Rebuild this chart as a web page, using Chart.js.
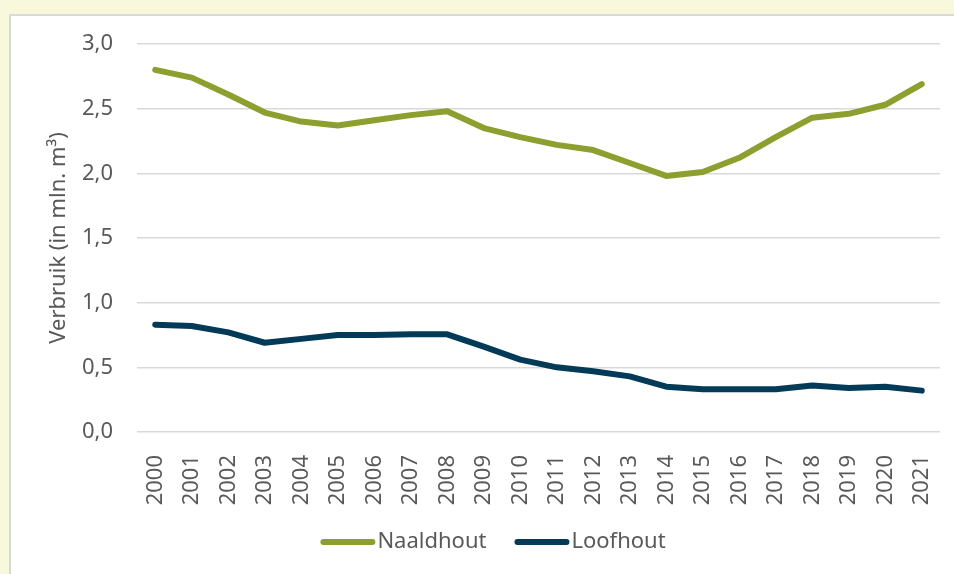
<!DOCTYPE html>
<html>
<head>
<meta charset="utf-8">
<script src="https://cdn.jsdelivr.net/npm/chart.js@4/dist/chart.umd.min.js"></script>
<style>
    html, body { margin: 0; padding: 0; }
    body { width: 954px; height: 574px; background: #f8f8dc; overflow: hidden; position: relative; }
    .panel {
        position: absolute; left: 9px; top: 14px; width: 960px; height: 580px;
        background: #fff; border-left: 2px solid #d9d9d9; border-top: 2px solid #d9d9d9;
    }
    #chart { position: absolute; left: 0; top: 0; }
</style>
</head>
<body>
<div class="panel"></div>
<canvas id="chart" width="954" height="574"></canvas>
<script>
// jaren
const years = ['2000', '2001', '2002', '2003', '2004', '2005', '2006', '2007', '2008', '2009', '2010',
    '2011', '2012', '2013', '2014', '2015', '2016', '2017', '2018', '2019', '2020', '2021'];

// verbruik in mln. m3
const naaldhout = [2.80, 2.74, 2.61, 2.47, 2.40, 2.37, 2.41, 2.45, 2.48, 2.35, 2.28,
    2.22, 2.18, 2.08, 1.98, 2.01, 2.12, 2.28, 2.43, 2.46, 2.53, 2.69];
const loofhout = [0.83, 0.82, 0.77, 0.69, 0.72, 0.75, 0.75, 0.755, 0.755, 0.66, 0.56,
    0.50, 0.47, 0.43, 0.35, 0.33, 0.33, 0.33, 0.36, 0.34, 0.35, 0.32];

const yTickLabels = ['0,0', '0,5', '1,0', '1,5', '2,0', '2,5', '3,0'];

const FONT = '"Noto Sans", sans-serif';
const TEXT = '#595959';

// eigen legenda: lijn direct tegen de tekst aan
const legendPlugin = {
    id: 'lineLegend',
    afterDraw(chart) {
        const ctx = chart.ctx;
        const y = 542;
        const lineW = 55;
        const gap = 28;
        ctx.save();
        ctx.font = '22px ' + FONT;
        const items = chart.data.datasets.map(ds => ({
            label: ds.label,
            color: ds.borderColor,
            width: lineW + 2 + ctx.measureText(ds.label).width
        }));
        const total = items.reduce((s, it) => s + it.width, 0) + gap * (items.length - 1);
        let x = 493 - total / 2;
        items.forEach(it => {
            ctx.strokeStyle = it.color;
            ctx.lineWidth = 6;
            ctx.lineCap = 'round';
            ctx.beginPath();
            ctx.moveTo(x + 3, y);
            ctx.lineTo(x + lineW - 3, y);
            ctx.stroke();
            ctx.fillStyle = TEXT;
            ctx.textBaseline = 'middle';
            ctx.fillText(it.label, x + lineW + 2, y);
            x += it.width + gap;
        });
        ctx.restore();
    }
};

const lineStyle = {
    borderWidth: 6,
    pointRadius: 0,
    tension: 0,
    borderCapStyle: 'round',
    borderJoinStyle: 'round'
};

new Chart(document.getElementById('chart'), {
    type: 'line',
    data: {
        labels: years,
        datasets: [
            { label: 'Naaldhout', data: naaldhout, borderColor: '#8c9f2f', ...lineStyle },
            { label: 'Loofhout', data: loofhout, borderColor: '#023a58', ...lineStyle }
        ]
    },
    plugins: [legendPlugin],
    options: {
        responsive: false,
        animation: false,
        layout: { padding: { left: 46, right: 14, top: 44, bottom: 52 } },
        plugins: {
            legend: { display: false },
            tooltip: { enabled: false }
        },
        scales: {
            x: {
                offset: true,
                grid: { display: false },
                border: { display: false },
                ticks: {
                    color: TEXT,
                    font: { family: FONT, size: 22 },
                    minRotation: 90,
                    maxRotation: 90,
                    autoSkip: false,
                    padding: 15
                },
                afterFit(scale) {
                    scale.height = 90;
                    scale.paddingLeft = 0;
                    scale.paddingRight = 0;
                }
            },
            y: {
                min: 0,
                max: 3,
                border: { display: false },
                grid: { color: '#d9d9d9', lineWidth: 1.5, drawTicks: false },
                ticks: {
                    stepSize: 0.5,
                    color: TEXT,
                    font: { family: FONT, size: 22 },
                    padding: 24,
                    callback: (v) => yTickLabels[Math.round(v / 0.5)]
                },
                title: {
                    display: true,
                    text: 'Verbruik (in mln. m³)',
                    color: TEXT,
                    font: { family: FONT, size: 22 },
                    padding: { top: 0, bottom: 10 }
                },
                afterFit(scale) {
                    scale.width = 91;
                }
            }
        }
    }
});
</script>
</body>
</html>
